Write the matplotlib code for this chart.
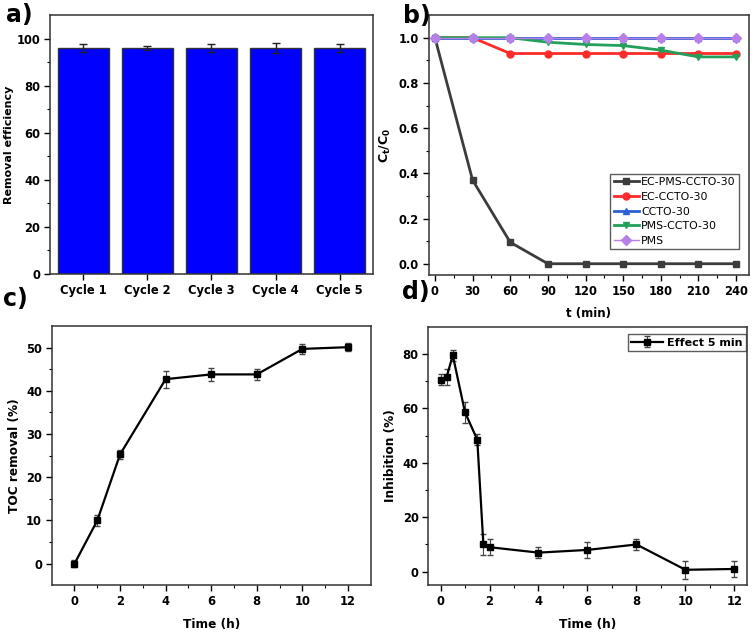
import matplotlib.pyplot as plt
import numpy as np

plt.rcParams['font.family'] = ['DejaVu Sans']
plt.rcParams['font.weight'] = 'bold'
plt.rcParams['axes.labelweight'] = 'bold'
plt.rcParams['font.size'] = 8.3
plt.rcParams['axes.linewidth'] = 1.1
plt.rcParams['axes.edgecolor'] = '#333333'

# a) recycling
cycles = ['Cycle 1', 'Cycle 2', 'Cycle 3', 'Cycle 4', 'Cycle 5']
removal = [96, 96, 96, 96, 96]
removal_err = [1.5, 0.8, 1.8, 2.0, 1.5]

# b) degradation kinetics
t_min = [0, 30, 60, 90, 120, 150, 180, 210, 240]
ec_pms_ccto = [1.0, 0.37, 0.095, 0.0, 0.0, 0.0, 0.0, 0.0, 0.0]
ec_ccto = [1.0, 1.0, 0.93, 0.93, 0.93, 0.93, 0.93, 0.93, 0.93]
ccto = [1.0, 1.0, 1.0, 1.0, 1.0, 1.0, 1.0, 1.0, 1.0]
pms_ccto = [1.0, 1.0, 1.0, 0.98, 0.97, 0.965, 0.945, 0.915, 0.915]
pms = [1.0, 1.0, 1.0, 1.0, 1.0, 1.0, 1.0, 1.0, 1.0]

# c) TOC removal
toc_t = [0, 1, 2, 4, 6, 8, 10, 12]
toc = [0, 10, 25.3, 42.7, 43.8, 43.8, 49.7, 50.1]
toc_err = [0.8, 1.2, 1.0, 2.0, 1.5, 1.2, 1.2, 0.9]

# d) inhibition
inh_t = [0, 0.25, 0.5, 1, 1.5, 1.75, 2, 4, 6, 8, 10, 12]
inh = [70.5, 71.5, 79.5, 58.5, 48.5, 10, 9, 7, 8, 10, 0.7, 1]
inh_err = [2, 3, 2, 4, 2, 4, 3, 2, 3, 2, 3.2, 3]

fig = plt.figure(figsize=(7.56, 6.34), dpi=100)
axa = fig.add_axes([0.0661, 0.5678, 0.4273, 0.4085])
axb = fig.add_axes([0.567, 0.5662, 0.4233, 0.410])
axc = fig.add_axes([0.0684, 0.0768, 0.422, 0.409])
axd = fig.add_axes([0.5665, 0.0768, 0.4212, 0.408])

# a
x = np.arange(1, 6)
axa.bar(x, removal, width=0.8, color='#0000ff', edgecolor='#333333', linewidth=1,
        yerr=removal_err, capsize=3, error_kw=dict(elinewidth=1, ecolor='#222222'))
axa.set_xticks(x)
axa.set_xticklabels(cycles)
axa.set_xlim(0.48, 5.52)
axa.set_ylim(0, 110)
axa.set_yticks([0, 20, 40, 60, 80, 100])
axa.set_yticks(np.arange(10, 110, 20), minor=True)
axa.tick_params(axis='x', length=0)
axa.set_ylabel('Removal efficiency', fontsize=8, labelpad=1.5)

# b
axb.plot(t_min, ec_pms_ccto, color='#3c3c3c', marker='s', ms=5, lw=2, label='EC-PMS-CCTO-30')
axb.plot(t_min, ec_ccto, color='#ff2a2a', marker='o', ms=5, lw=2, label='EC-CCTO-30')
axb.plot(t_min, ccto, color='#2a5fd6', marker='^', ms=5, lw=2, label='CCTO-30')
axb.plot(t_min, pms_ccto, color='#22a05a', marker='v', ms=5, lw=2, label='PMS-CCTO-30')
axb.plot(t_min, pms, color='#b77fe8', marker='D', ms=5, lw=1, label='PMS')
axb.set_xlim(-5, 250)
axb.set_ylim(-0.05, 1.1)
axb.set_xticks(t_min)
axb.set_xticks(np.arange(15, 250, 30), minor=True)
axb.set_yticks([0, 0.2, 0.4, 0.6, 0.8, 1.0])
axb.set_yticks(np.arange(0.1, 1.1, 0.2), minor=True)
axb.set_xlabel('t (min)', fontsize=8.5, labelpad=7)
axb.set_ylabel('C$_\\mathbf{t}$/C$_\\mathbf{0}$', fontsize=9)
leg = axb.legend(loc='lower right', bbox_to_anchor=(0.97, 0.10), borderaxespad=0,
                 prop={'weight': 'normal', 'size': 7.9}, frameon=True, fancybox=False,
                 handlelength=2.3, handletextpad=0.2, borderpad=0.3, labelspacing=0.42)
leg.get_frame().set_edgecolor('#333333')
leg.get_frame().set_linewidth(1)

# c
axc.errorbar(toc_t, toc, yerr=toc_err, color='black', marker='s', ms=5, lw=1.6,
             capsize=2.5, elinewidth=0.8, ecolor='#444444')
axc.set_xlim(-1, 13)
axc.set_ylim(-5, 55)
axc.set_xticks([0, 2, 4, 6, 8, 10, 12])
axc.set_xticks(np.arange(1, 13, 2), minor=True)
axc.set_yticks([0, 10, 20, 30, 40, 50])
axc.set_yticks(np.arange(5, 55, 10), minor=True)
axc.set_xlabel('Time (h)', fontsize=8.7, labelpad=7)
axc.set_ylabel('TOC removal (%)', fontsize=8.7)

# d
axd.errorbar(inh_t, inh, yerr=inh_err, color='black', marker='s', ms=5, lw=1.6,
             capsize=2.5, elinewidth=0.8, ecolor='#444444', label='Effect 5 min')
axd.set_xlim(-0.5, 12.5)
axd.set_ylim(-5, 90)
axd.set_xticks([0, 2, 4, 6, 8, 10, 12])
axd.set_xticks(np.arange(1, 13, 2), minor=True)
axd.set_yticks([0, 20, 40, 60, 80])
axd.set_yticks(np.arange(10, 90, 20), minor=True)
axd.set_xlabel('Time (h)', fontsize=8.7, labelpad=7)
axd.set_ylabel('Inhibition (%)', fontsize=8.7)
leg2 = axd.legend(loc='upper right', bbox_to_anchor=(1.0, 0.975), frameon=True, fancybox=False,
                  prop={'weight': 'bold', 'size': 8},
                  handlelength=2.9, handletextpad=0.3, borderpad=0.3, borderaxespad=0.1)
leg2.get_frame().set_edgecolor('#333333')
leg2.get_frame().set_linewidth(1)

for ax in (axa, axb, axc, axd):
    ax.tick_params(which='major', direction='out', length=4.5, width=1, labelsize=8.3, pad=2.5)
    ax.tick_params(which='minor', direction='out', length=2.5, width=0.8)
    for lab in ax.get_xticklabels() + ax.get_yticklabels():
        lab.set_fontweight('bold')

fig.text(0.008, 0.995, 'a)', fontsize=17, fontweight='bold', va='top', ha='left')
fig.text(0.533, 0.994, 'b)', fontsize=17, fontweight='bold', va='top', ha='left')
fig.text(0.004, 0.548, 'c)', fontsize=17, fontweight='bold', va='top', ha='left')
fig.text(0.532, 0.559, 'd)', fontsize=17, fontweight='bold', va='top', ha='left')

fig.savefig('out.png', dpi=100)
